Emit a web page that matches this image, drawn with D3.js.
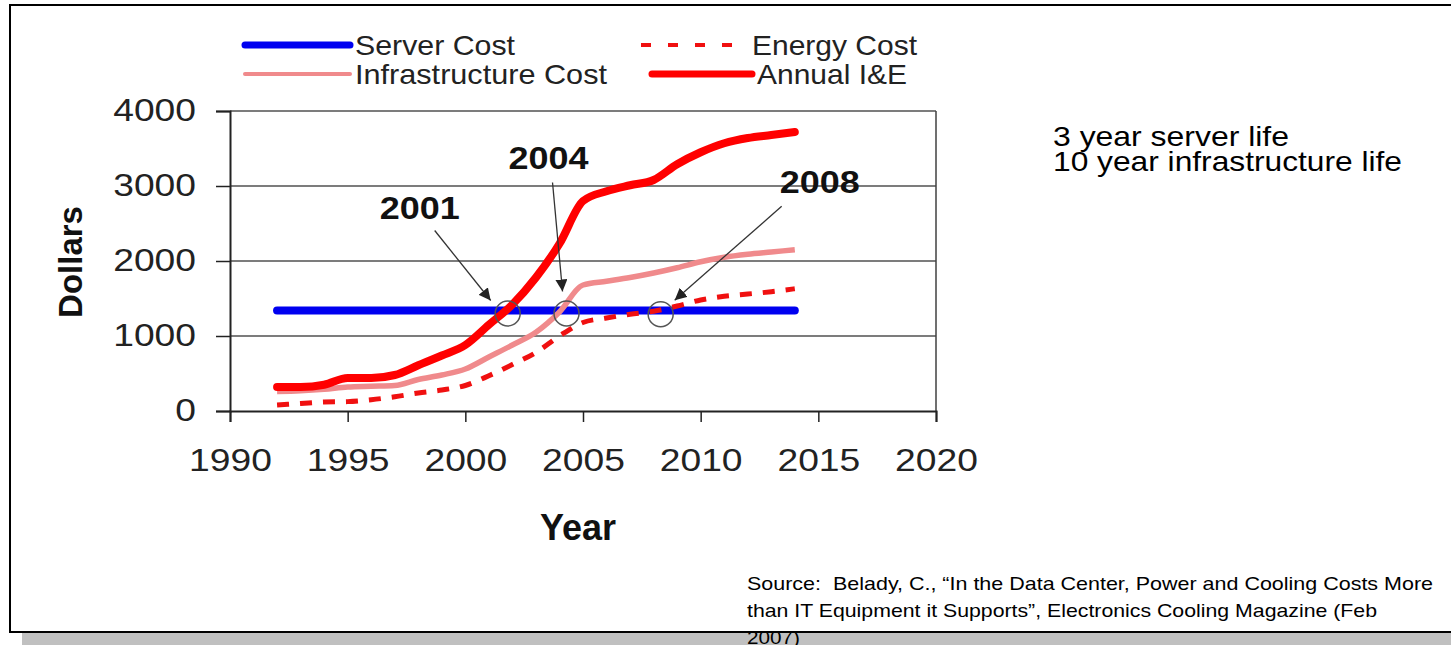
<!DOCTYPE html>
<html>
<head>
<meta charset="utf-8">
<script src="https://cdn.jsdelivr.net/npm/d3@7"></script>
<style>
  html, body { margin: 0; padding: 0; background: #fff; }
  svg { display: block; font-family: "Liberation Sans", Arial, sans-serif; }
</style>
</head>
<body>
<svg id="chart" width="1451" height="645"></svg>
<script>
// Yearly cost per server, in dollars
const years = [1992, 1993, 1994, 1995, 1996, 1997, 1998, 1999, 2000, 2001, 2002, 2003,
               2004, 2005, 2006, 2007, 2008, 2009, 2010, 2011, 2012, 2013, 2014];
const serverCost = [1340, 1340, 1340, 1340, 1340, 1340, 1340, 1340, 1340, 1340, 1340, 1340,
                    1340, 1340, 1340, 1340, 1340, 1340, 1340, 1340, 1340, 1340, 1340];
const energyCost = [80, 100, 120, 125, 150, 190, 240, 280, 340, 470, 620, 780,
                    1000, 1180, 1240, 1290, 1330, 1400, 1480, 1530, 1560, 1590, 1630];
const infrastructureCost = [260, 270, 290, 320, 330, 340, 420, 480, 560, 720, 880, 1050,
                            1320, 1680, 1730, 1780, 1840, 1910, 1990, 2050, 2090, 2120, 2150];
const annualIE = [320, 320, 350, 440, 440, 480, 610, 740, 880, 1150, 1420, 1780,
                  2230, 2800, 2930, 3010, 3080, 3290, 3450, 3570, 3640, 3680, 3720];

const xTicks = [1990, 1995, 2000, 2005, 2010, 2015, 2020];
const yTicks = [0, 1000, 2000, 3000, 4000];

// Crossover points: where each cost overtakes the server cost
const crossLabels = ["2001", "2004", "2008"];
const crossYears = [2001.8, 2004.3, 2008.3];
const crossValues = [1300, 1300, 1290];

const legendNames = ["Server Cost", "Energy Cost", "Infrastructure Cost", "Annual I&E"];
const noteLines = ["3 year server life", "10 year infrastructure life"];
const sourceLines = [
  "Source:  Belady, C., \u201cIn the Data Center, Power and Cooling Costs More",
  "than IT Equipment it Supports\u201d, Electronics Cooling Magazine (Feb",
  "2007)"
];

const svg = d3.select("#chart");

// Slide frame and its drop shadow
svg.append("rect").attr("x", 22).attr("y", 633).attr("width", 1429).attr("height", 12)
  .attr("fill", "#c0c0c0");
svg.append("path").attr("d", "M1451,5 H10 V632 H1451")
  .attr("fill", "none").attr("stroke", "#000").attr("stroke-width", 2);

const x = d3.scaleLinear().domain([1990, 2020]).range([230, 936]);
const y = d3.scaleLinear().domain([0, 4000]).range([411, 111]);

// Gridlines and plot border
svg.append("g").selectAll("line").data(yTicks.filter(d => d > 0)).join("line")
  .attr("x1", x(1990)).attr("x2", x(2020))
  .attr("y1", d => y(d)).attr("y2", d => y(d))
  .attr("stroke", "#505050").attr("stroke-width", 1.5);
svg.append("line").attr("x1", x(2020)).attr("x2", x(2020))
  .attr("y1", y(4000)).attr("y2", y(0))
  .attr("stroke", "#404040").attr("stroke-width", 1.5);

// Axes
const yAxis = svg.append("g").attr("transform", `translate(${x(1990)},0)`)
  .call(d3.axisLeft(y).tickValues(yTicks).tickSize(14).tickPadding(20).tickFormat(d3.format("d")));
const xAxis = svg.append("g").attr("transform", `translate(0,${y(0)})`)
  .call(d3.axisBottom(x).tickValues(xTicks).tickSize(11).tickPadding(27).tickFormat(d3.format("d")));
[yAxis, xAxis].forEach(g => {
  g.select(".domain").attr("stroke", "#222").attr("stroke-width", 2);
  g.selectAll(".tick line").attr("stroke", "#222").attr("stroke-width", 1.5);
  g.selectAll(".tick text").attr("fill", "#222")
    .style("font-family", "'Liberation Sans', Arial, sans-serif").style("font-size", "31px")
    .attr("lengthAdjust", "spacingAndGlyphs")
    .attr("textLength", d => String(d).length * 20.7);
});

// Axis titles
svg.append("text").attr("x", 578).attr("y", 540).attr("text-anchor", "middle")
  .attr("font-size", 36).attr("font-weight", "bold").attr("fill", "#111").text("Year");
svg.append("text").attr("transform", "translate(82,262) rotate(-90)")
  .attr("text-anchor", "middle").attr("font-size", 33).attr("font-weight", "bold")
  .attr("fill", "#111").text("Dollars");

// Series lines
const line = d3.line().x((d, i) => x(years[i])).y(d => y(d)).curve(d3.curveMonotoneX);
const series = [
  { values: serverCost, color: "#0000f0", width: 8, dash: null, cap: "round" },
  { values: infrastructureCost, color: "#f08a8c", width: 5.5, dash: null, cap: "butt" },
  { values: energyCost, color: "#f01010", width: 5, dash: "12,11", cap: "butt" },
  { values: annualIE, color: "#ff0000", width: 8, dash: null, cap: "round" }
];
svg.append("g").selectAll("path").data(series).join("path")
  .attr("d", s => line(s.values))
  .attr("fill", "none")
  .attr("stroke", s => s.color)
  .attr("stroke-width", s => s.width)
  .attr("stroke-linecap", s => s.cap)
  .attr("stroke-linejoin", "round")
  .attr("stroke-dasharray", s => s.dash);

// Crossover circles, arrows and year labels
const defs = svg.append("defs");
defs.append("marker").attr("id", "arrowhead").attr("viewBox", "0 0 10 10")
  .attr("refX", 10).attr("refY", 5).attr("markerWidth", 12).attr("markerHeight", 12)
  .attr("markerUnits", "userSpaceOnUse").attr("orient", "auto")
  .append("path").attr("d", "M0,0 L10,5 L0,10 z").attr("fill", "#222");

const calloutLayout = [
  { tx: -88, ty: -95, ax1: -73, ay1: -83, ax2: -17, ay2: -13 },
  { tx: -18, ty: -145, ax1: -14, ay1: -131, ax2: -4, ay2: -22 },
  { tx: 159, ty: -121, ax1: 121, ay1: -108, ax2: 14, ay2: -14 }
];
crossLabels.forEach((label, i) => {
  const cx = x(crossYears[i]), cy = y(crossValues[i]);
  const L = calloutLayout[i];
  svg.append("circle").attr("cx", cx).attr("cy", cy).attr("r", 12.5)
    .attr("fill", "none").attr("stroke", "#555").attr("stroke-width", 1.5);
  svg.append("line")
    .attr("x1", cx + L.ax1).attr("y1", cy + L.ay1)
    .attr("x2", cx + L.ax2).attr("y2", cy + L.ay2)
    .attr("stroke", "#333").attr("stroke-width", 1.3)
    .attr("marker-end", "url(#arrowhead)");
  svg.append("text").attr("x", cx + L.tx).attr("y", cy + L.ty)
    .attr("text-anchor", "middle").attr("font-size", 31).attr("font-weight", "bold")
    .attr("fill", "#111")
    .attr("lengthAdjust", "spacingAndGlyphs").attr("textLength", 80)
    .text(label);
});

// Legend
const legendItems = [
  { name: legendNames[0], x1: 245, x2: 350, y: 45, color: "#0000f0", width: 7, dash: null, tx: 355, tw: 160 },
  { name: legendNames[1], x1: 641, x2: 748, y: 45, color: "#f01010", width: 4, dash: "10,17", tx: 752, tw: 165 },
  { name: legendNames[2], x1: 245, x2: 350, y: 74, color: "#f08a8c", width: 4, dash: null, tx: 355, tw: 252 },
  { name: legendNames[3], x1: 652, x2: 752, y: 74, color: "#ff0000", width: 7, dash: null, tx: 757, tw: 150 }
];
const lg = svg.append("g");
legendItems.forEach(d => {
  lg.append("line").attr("x1", d.x1).attr("x2", d.x2).attr("y1", d.y).attr("y2", d.y)
    .attr("stroke", d.color).attr("stroke-width", d.width)
    .attr("stroke-linecap", d.dash ? "butt" : "round")
    .attr("stroke-dasharray", d.dash);
  lg.append("text").attr("x", d.tx).attr("y", d.y + 10).attr("font-size", 28)
    .attr("fill", "#222")
    .attr("lengthAdjust", "spacingAndGlyphs").attr("textLength", d.tw)
    .text(d.name);
});

// Side note
const noteWidths = [236, 349];
noteLines.forEach((t, i) => {
  svg.append("text").attr("x", 1053).attr("y", 146 + i * 25).attr("font-size", 28)
    .attr("fill", "#000")
    .attr("lengthAdjust", "spacingAndGlyphs").attr("textLength", noteWidths[i])
    .text(t);
});

// Source citation (keeps the double space after "Source:")
const sourceWidths = [686, 630, 53];
sourceLines.forEach((t, i) => {
  svg.append("text").attr("x", 747).attr("y", 590 + i * 27).attr("font-size", 19)
    .attr("fill", "#000").style("white-space", "pre")
    .attr("lengthAdjust", "spacingAndGlyphs").attr("textLength", sourceWidths[i])
    .text(t);
});
</script>
</body>
</html>
